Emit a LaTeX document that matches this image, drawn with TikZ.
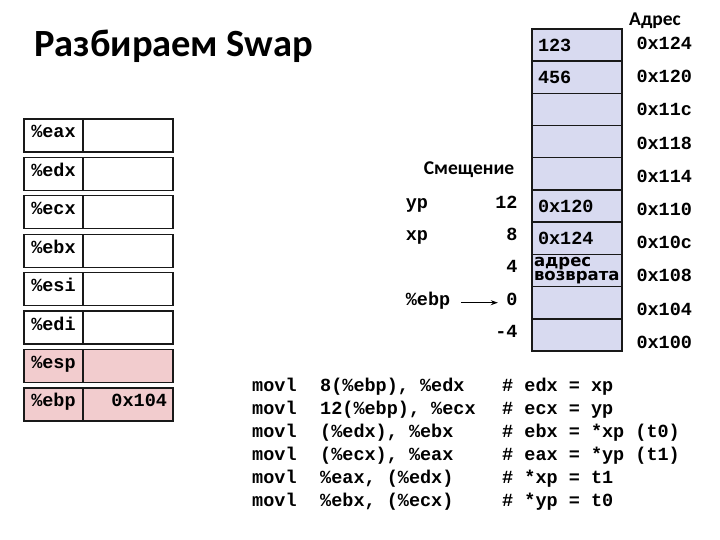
\documentclass[tikz,border=0pt]{standalone}
\usepackage{fontspec}
\setmainfont{Carlito}
\setsansfont{Carlito}
\setmonofont{Liberation Mono}
\newfontfamily{\widesans}{DejaVu Sans}
\definecolor{stackfill}{RGB}{216, 218, 240}
\definecolor{regpink}{RGB}{242, 204, 206}
\definecolor{edge}{RGB}{25, 25, 25}
\usetikzlibrary{arrows.meta, positioning}
\newcommand{\codefont}{\ttfamily\bfseries\fontsize{18.5}{20}\selectfont}
\newcommand{\labelfont}{\sffamily\bfseries\fontsize{19.5}{21}\selectfont}
\newcommand{\retfont}{\widesans\bfseries\fontsize{16.5}{13.5}\selectfont}

\begin{document}
\begin{tikzpicture}[x=1pt, y=-1pt,
            cell/.style={draw=edge, line width=1.4pt, fill=stackfill, outer sep=0pt, inner sep=0pt, minimum width=90pt, minimum height=32.2pt, text width=78pt, align=left, font=\codefont},
            reglbl/.style={draw=edge, line width=1.4pt, fill=white, outer sep=0pt, inner sep=0pt, minimum width=59pt, minimum height=33pt, font=\codefont, text height=0.7em, text depth=0.2em},
            regval/.style={reglbl, minimum width=90pt, text width=78pt, align=right},
            mono/.style={font=\codefont, text height=0.7em, text depth=0.2em},
            codeln/.style={font=\codefont, anchor=base west, inner sep=0pt},
            ptr/.style={-{Stealth[length=7pt, width=5pt]}, line width=1.1pt, shorten <=7pt, shorten >=5pt}
        ]
            \useasboundingbox (0,0) rectangle (720,540);
            \node[anchor=base west, inner sep=0pt, font=\sffamily\bfseries\fontsize{38.5}{42}\selectfont] (title) at (34,57) {Разбираем Swap};

            % registers
            \foreach \r [count=\i from 0] in {eax,edx,ecx,ebx,esi,edi} {
                \node[reglbl] (r\r) at (53.5,135.5+38.4*\i) {\%\r};
                \node[regval, right=0pt of r\r] (v\r) {};
            }
            \node[reglbl, fill=regpink] (resp) at (53.5,366) {\%esp};
            \node[regval, fill=regpink, right=0pt of resp] (vesp) {};
            \node[reglbl, fill=regpink] (rebp) at (53.5,404.4) {\%ebp};
            \node[regval, fill=regpink, right=0pt of rebp] (vebp) {0x104};

            % stack
            \node[cell] (s124) at (577,45.1) {123};
            \node[cell, below=0pt of s124] (s120) {456};
            \node[cell, below=0pt of s120] (s11c) {};
            \node[cell, below=0pt of s11c] (s118) {};
            \node[cell, below=0pt of s118] (s114) {};
            \node[cell, below=0pt of s114] (s110) {0x120};
            \node[cell, below=0pt of s110] (s10c) {0x124};
            \node[cell, below=0pt of s10c, text width=86pt, font=\retfont] (s108) {адрес\\возврата};
            \node[cell, below=0pt of s108] (s104) {};
            \node[cell, below=0pt of s104] (s100) {};

            \node[font=\labelfont] (adrhdr) at (655,21) {Адрес};
            \foreach \a [count=\i from 0] in {124,120,11c,118,114,110,10c,108,104,100}
                \node[mono, anchor=west] (a\a) at (633,47+33.2*\i) {0x\a};

            % offsets
            \node[font=\labelfont] (offhdr) at (469,170) {Смещение};
            \node[mono, left=11pt of s110] (off12) {12};
            \node[mono, left=11pt of s10c] (off8) {8};
            \node[mono, left=11pt of s108] (off4) {4};
            \node[mono, left=11pt of s104] (off0) {0};
            \node[mono, left=11pt of s100] (offm4) {-4};
            \node[mono, left=49pt of off0] (ebpl) {\%ebp};
            \node[mono, anchor=west] (ypl) at (off12 -| ebpl.west) {yp};
            \node[mono, anchor=west] (xpl) at (off8 -| ebpl.west) {xp};
            \draw[ptr] (ebpl) -- (off0);

            % code
            \foreach \arg/\cmt [count=\i from 0] in {{8(\%ebp), \%edx}/{edx = xp}, {12(\%ebp), \%ecx}/{ecx = yp}, {(\%edx), \%ebx}/{ebx = *xp (t0)}, {(\%ecx), \%eax}/{eax = *yp (t1)}, {\%eax, (\%edx)}/{*xp = t1}, {\%ebx, (\%ecx)}/{*yp = t0}} {
                \node[codeln] (op\i) at (252,391.5+23*\i) {movl};
                \node[codeln] (arg\i) at (320,391.5+23*\i) {\arg};
                \node[codeln] (cmt\i) at (502,391.5+23*\i) {\# \cmt};
            }
        \end{tikzpicture}
\end{document}
